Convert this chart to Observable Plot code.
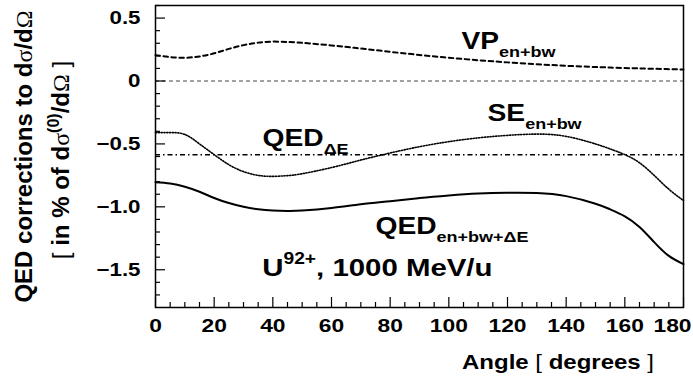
<!DOCTYPE html>
<html><head><meta charset="utf-8">
<script src="https://cdn.jsdelivr.net/npm/d3@7"></script>
<script src="https://cdn.jsdelivr.net/npm/@observablehq/plot@0.6"></script>
<style>html,body{margin:0;padding:0;background:#fff}svg{display:block}</style>
</head><body><div id="chart"></div>
<script>
// ---- data ----
const angles = [0,5,10,15,20,25,30,35,40,45,50,60,70,80,90,100,110,120,130,140,150,155,160,165,170,175,180];
const vpValues = [0.205,0.19,0.185,0.195,0.22,0.255,0.285,0.305,0.313,0.31,0.303,0.283,0.258,0.232,0.207,0.185,0.165,0.148,0.133,0.121,0.111,0.107,0.103,0.100,0.097,0.094,0.092];
const seValues = [-0.41,-0.41,-0.425,-0.50,-0.585,-0.665,-0.72,-0.75,-0.758,-0.752,-0.737,-0.688,-0.628,-0.572,-0.522,-0.482,-0.452,-0.432,-0.422,-0.44,-0.50,-0.54,-0.585,-0.65,-0.75,-0.86,-0.95];
const totalValues = [-0.805,-0.815,-0.84,-0.88,-0.93,-0.97,-1.0,-1.02,-1.03,-1.033,-1.03,-1.01,-0.98,-0.955,-0.93,-0.91,-0.895,-0.888,-0.89,-0.915,-0.975,-1.02,-1.075,-1.16,-1.28,-1.39,-1.455];
const qedDeltaE = -0.587;
const zeroLine = 0;

const xTicks = [0,20,40,60,80,100,120,140,160,180];
const xTickLabels = ["0","20","40","60","80","100","120","140","160","180"];
const xMinorTicks = [5,10,15,25,30,35,45,50,55,65,70,75,85,90,95,105,110,115,125,130,135,145,150,155,165,170,175];
const yTicks = [0.5,0,-0.5,-1.0,-1.5];
const yTickLabels = ["0.5","0","\u22120.5","\u22121.0","\u22121.5"];
const yMinorTicks = [0.6,0.4,0.3,0.2,0.1,-0.1,-0.2,-0.3,-0.4,-0.6,-0.7,-0.8,-0.9,-1.1,-1.2,-1.3,-1.4,-1.6,-1.7];

// curve labels: main text, subscript, anchor (angle, value)
const labelMain = ["VP","SE","QED","QED"];
const labelSub = ["en+bw","en+bw","\u0394E","en+bw+\u0394E"];
const labelAngle = [104.3,113.2,36.5,75.0];
const labelValue = [0.252,-0.32,-0.518,-1.217];
const ionLabel = {ion: "U", charge: "92+", rest: ", 1000 MeV/u", angle: 36.4, value: -1.548};

// ---- build ----
const FONT = "'Liberation Sans', Arial, Helvetica, sans-serif";
const STRETCH = 1.2;
const rows = (vals) => angles.map((a, i) => ({angle: a, value: vals[i]}));
const labels = labelMain.map((m, i) => ({main: m, sub: labelSub[i], angle: labelAngle[i], value: labelValue[i]}));

const plot = Plot.plot({
  width: 693, height: 377,
  marginLeft: 155, marginRight: 10, marginTop: 5, marginBottom: 70,
  style: {fontFamily: FONT, fontWeight: "bold", background: "#fff", color: "#000"},
  x: {domain: [0, 180], label: null},
  y: {domain: [-1.8, 0.6], label: null},
  marks: [
    Plot.ruleY([zeroLine], {stroke: "#444", strokeWidth: 1, strokeDasharray: "4,3"}),
    Plot.ruleY([qedDeltaE], {stroke: "#000", strokeWidth: 1.5, strokeDasharray: "5,3,1.5,3"}),
    Plot.line(rows(vpValues), {x: "angle", y: "value", curve: "natural", stroke: "#000", strokeWidth: 2, strokeDasharray: "4.5,3.5"}),
    Plot.line(rows(seValues), {x: "angle", y: "value", curve: "natural", stroke: "#000", strokeWidth: 1.6, strokeDasharray: "1.2,1.6"}),
    Plot.line(rows(totalValues), {x: "angle", y: "value", curve: "natural", stroke: "#000", strokeWidth: 2}),
    Plot.frame({stroke: "#000", strokeWidth: 1.5}),
    Plot.axisY({ticks: yTicks, tickSize: -10, stroke: "#000", strokeWidth: 1.2, fill: "none", label: null}),
    Plot.axisY({ticks: yMinorTicks, tickSize: -5, stroke: "#000", strokeWidth: 1.2, fill: "none", label: null}),
    Plot.axisY({ticks: yTicks, tickSize: 0, tickPadding: 15, tickFormat: (d) => yTickLabels[yTicks.indexOf(d)], fontSize: 18.6, fill: "#000", label: null}),
    Plot.axisX({ticks: xTicks, tickSize: -10, stroke: "#000", strokeWidth: 1.2, fill: "none", label: null}),
    Plot.axisX({ticks: xMinorTicks, tickSize: -5, stroke: "#000", strokeWidth: 1.2, fill: "none", label: null}),
    Plot.axisX({ticks: xTicks, tickSize: 0, tickPadding: 11, tickFormat: (d) => xTickLabels[xTicks.indexOf(d)], fontSize: 19, fill: "#000", label: null}),
    Plot.text(labels, {x: "angle", y: "value", text: "main", textAnchor: "start", lineAnchor: "bottom", fontSize: 23.5, fill: "#000"}),
    Plot.text([ionLabel], {x: "angle", y: "value", text: "ion", textAnchor: "start", lineAnchor: "bottom", fontSize: 24.5, fill: "#000"})
  ]
});

const svg = d3.select(plot);
const textGroups = svg.selectAll('g[aria-label="text"]').nodes();
d3.select(textGroups[0]).selectAll("text").each(function(_, i) {
  d3.select(this).append("tspan").attr("dy", 7.5).attr("font-size", 15).text(labels[i].sub);
});
d3.select(textGroups[1]).selectAll("text").each(function() {
  const t = d3.select(this);
  t.append("tspan").attr("dy", -11.5).attr("font-size", 16).text(ionLabel.charge);
  t.append("tspan").attr("dy", 11.5).text(ionLabel.rest);
});

// x axis title
const xt = svg.append("text").attr("x", 654).attr("y", 369).attr("text-anchor", "end")
  .attr("font-size", 20).attr("font-weight", "bold").attr("fill", "#000");
xt.append("tspan").text("Angle ");
xt.append("tspan").attr("font-weight", "normal").text("[");
xt.append("tspan").text(" degrees ");
xt.append("tspan").attr("font-weight", "normal").text("]");

// horizontal stretch of text (reference glyphs are wide); keep last x label inside
svg.selectAll("text").each(function() {
  const el = d3.select(this);
  const x = +el.attr("x") || 0, y = +el.attr("y") || 0;
  const T = el.attr("transform") || "";
  const shift = el.text() === xTickLabels[xTickLabels.length - 1] ? -11 : 0;
  el.attr("transform", `${T} translate(${x + shift},${y}) scale(${STRETCH},1) translate(${-x},${-y})`);
});

// y axis title (two rotated lines)
const SERIF = "'Liberation Serif', 'Times New Roman', serif";
const y1 = svg.append("text").attr("transform", "translate(32,156.5) rotate(-90)").attr("text-anchor", "middle")
  .attr("font-size", 24).attr("font-weight", "bold").attr("fill", "#000");
y1.append("tspan").text("QED corrections to d");
y1.append("tspan").attr("font-family", SERIF).attr("font-weight", "normal").text("\u03C3");
y1.append("tspan").text("/d");
y1.append("tspan").attr("font-family", SERIF).attr("font-weight", "normal").text("\u03A9");
const y2 = svg.append("text").attr("transform", "translate(69,160) rotate(-90)").attr("text-anchor", "middle")
  .attr("font-size", 24).attr("font-weight", "bold").attr("fill", "#000");
y2.append("tspan").attr("font-weight", "normal").text("[");
y2.append("tspan").text(" in % of d");
y2.append("tspan").attr("font-family", SERIF).attr("font-weight", "normal").text("\u03C3");
y2.append("tspan").attr("font-size", 16).attr("dy", -10).text("(0)");
y2.append("tspan").attr("dy", 10).text("/d");
y2.append("tspan").attr("font-family", SERIF).attr("font-weight", "normal").text("\u03A9");
y2.append("tspan").text(" ");
y2.append("tspan").attr("font-weight", "normal").text("]");

document.getElementById("chart").appendChild(plot);
</script>
</body></html>
